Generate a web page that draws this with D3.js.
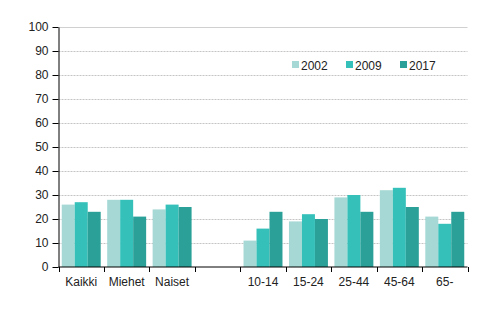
<!DOCTYPE html>
<html>
<head>
<meta charset="utf-8">
<script src="https://cdn.jsdelivr.net/npm/d3@7/dist/d3.min.js"></script>
<style>
  html, body { margin: 0; padding: 0; background: #fff; }
  svg { display: block; font-family: Arial, "Liberation Sans", sans-serif; }
</style>
</head>
<body>
<svg id="chart" width="491" height="329"></svg>
<script>
// Categories (the empty one is a spacer between the two groups)
const categories = ["Kaikki", "Miehet", "Naiset", "", "10-14", "15-24", "25-44", "45-64", "65-"];
const seriesNames = ["2002", "2009", "2017"];
const values2002 = [26, 28, 24, null, 11, 19, 29, 32, 21];
const values2009 = [27, 28, 26, null, 16, 22, 30, 33, 18];
const values2017 = [23, 21, 25, null, 23, 20, 23, 25, 23];
const yTicks = [0, 10, 20, 30, 40, 50, 60, 70, 80, 90, 100];
const colors = ["#a6d9d5", "#35c1b9", "#2aa098"];

const seriesValues = [values2002, values2009, values2017];

const svg = d3.select("#chart");
const margin = { left: 58.5, right: 23.5, top: 27, bottom: 62 };
const W = 491, H = 329;

const x = d3.scaleBand()
  .domain(d3.range(categories.length))
  .range([margin.left, W - margin.right])
  .paddingInner(0).paddingOuter(0);

const y = d3.scaleLinear().domain([0, 100]).range([H - margin.bottom, margin.top]);

const inner = d3.scaleBand()
  .domain(seriesNames)
  .range([0, x.bandwidth()])
  .paddingOuter(0.25)
  .paddingInner(0);

// Gridlines
svg.append("g")
  .selectAll("line")
  .data(yTicks.filter(t => t > 0))
  .join("line")
  .attr("x1", margin.left)
  .attr("x2", W - margin.right)
  .attr("y1", d => Math.round(y(d)) + 0.5)
  .attr("y2", d => Math.round(y(d)) + 0.5)
  .attr("stroke", d => d === 100 ? "#d0d0d0" : "#c4c4c4")
  .attr("stroke-width", 1)
  .attr("stroke-dasharray", d => d === 100 ? null : "2,1");

// Bars
seriesNames.forEach((name, si) => {
  svg.append("g")
    .selectAll("rect")
    .data(seriesValues[si].map((v, i) => ({ i, v })).filter(d => d.v != null))
    .join("rect")
    .attr("x", d => x(d.i) + inner(name))
    .attr("width", inner.bandwidth())
    .attr("y", d => y(d.v))
    .attr("height", d => y(0) - y(d.v))
    .attr("fill", colors[si]);
});

// Y axis
const yAxis = d3.axisLeft(y).tickValues(yTicks).tickSize(6).tickPadding(4).tickSizeOuter(0);
const gy = svg.append("g")
  .attr("transform", `translate(${margin.left},0)`)
  .call(yAxis);
gy.select(".domain").attr("stroke", "#000");
gy.selectAll(".tick line").attr("stroke", "#000");
gy.selectAll("text").attr("font-size", 12).attr("fill", "#222");

// X axis with ticks at category boundaries
const gx = svg.append("g").attr("transform", `translate(0,${y(0)})`);
gx.append("line")
  .attr("x1", margin.left).attr("x2", W - margin.right)
  .attr("stroke", "#000");
const boundaries = d3.range(categories.length + 1).map(i =>
  i < categories.length ? x(i) : x(categories.length - 1) + x.bandwidth());
gx.selectAll(".bt")
  .data(boundaries)
  .join("line")
  .attr("class", "bt")
  .attr("x1", d => Math.round(d) + 0.5).attr("x2", d => Math.round(d) + 0.5)
  .attr("y1", 0).attr("y2", 5)
  .attr("stroke", "#000");
gx.selectAll("text")
  .data(categories)
  .join("text")
  .attr("x", (d, i) => x(i) + x.bandwidth() / 2)
  .attr("y", 19)
  .attr("text-anchor", "middle")
  .attr("font-size", 12)
  .attr("fill", "#222")
  .text(d => d);

// Legend
const legendX = [292, 346, 400];
const lg = svg.append("g");
seriesNames.forEach((name, i) => {
  lg.append("rect")
    .attr("x", legendX[i]).attr("y", 61)
    .attr("width", 7).attr("height", 7)
    .attr("fill", colors[i]);
  lg.append("text")
    .attr("x", legendX[i] + 9).attr("y", 69.5)
    .attr("font-size", 12)
    .attr("fill", "#222")
    .text(name);
});
</script>
</body>
</html>
